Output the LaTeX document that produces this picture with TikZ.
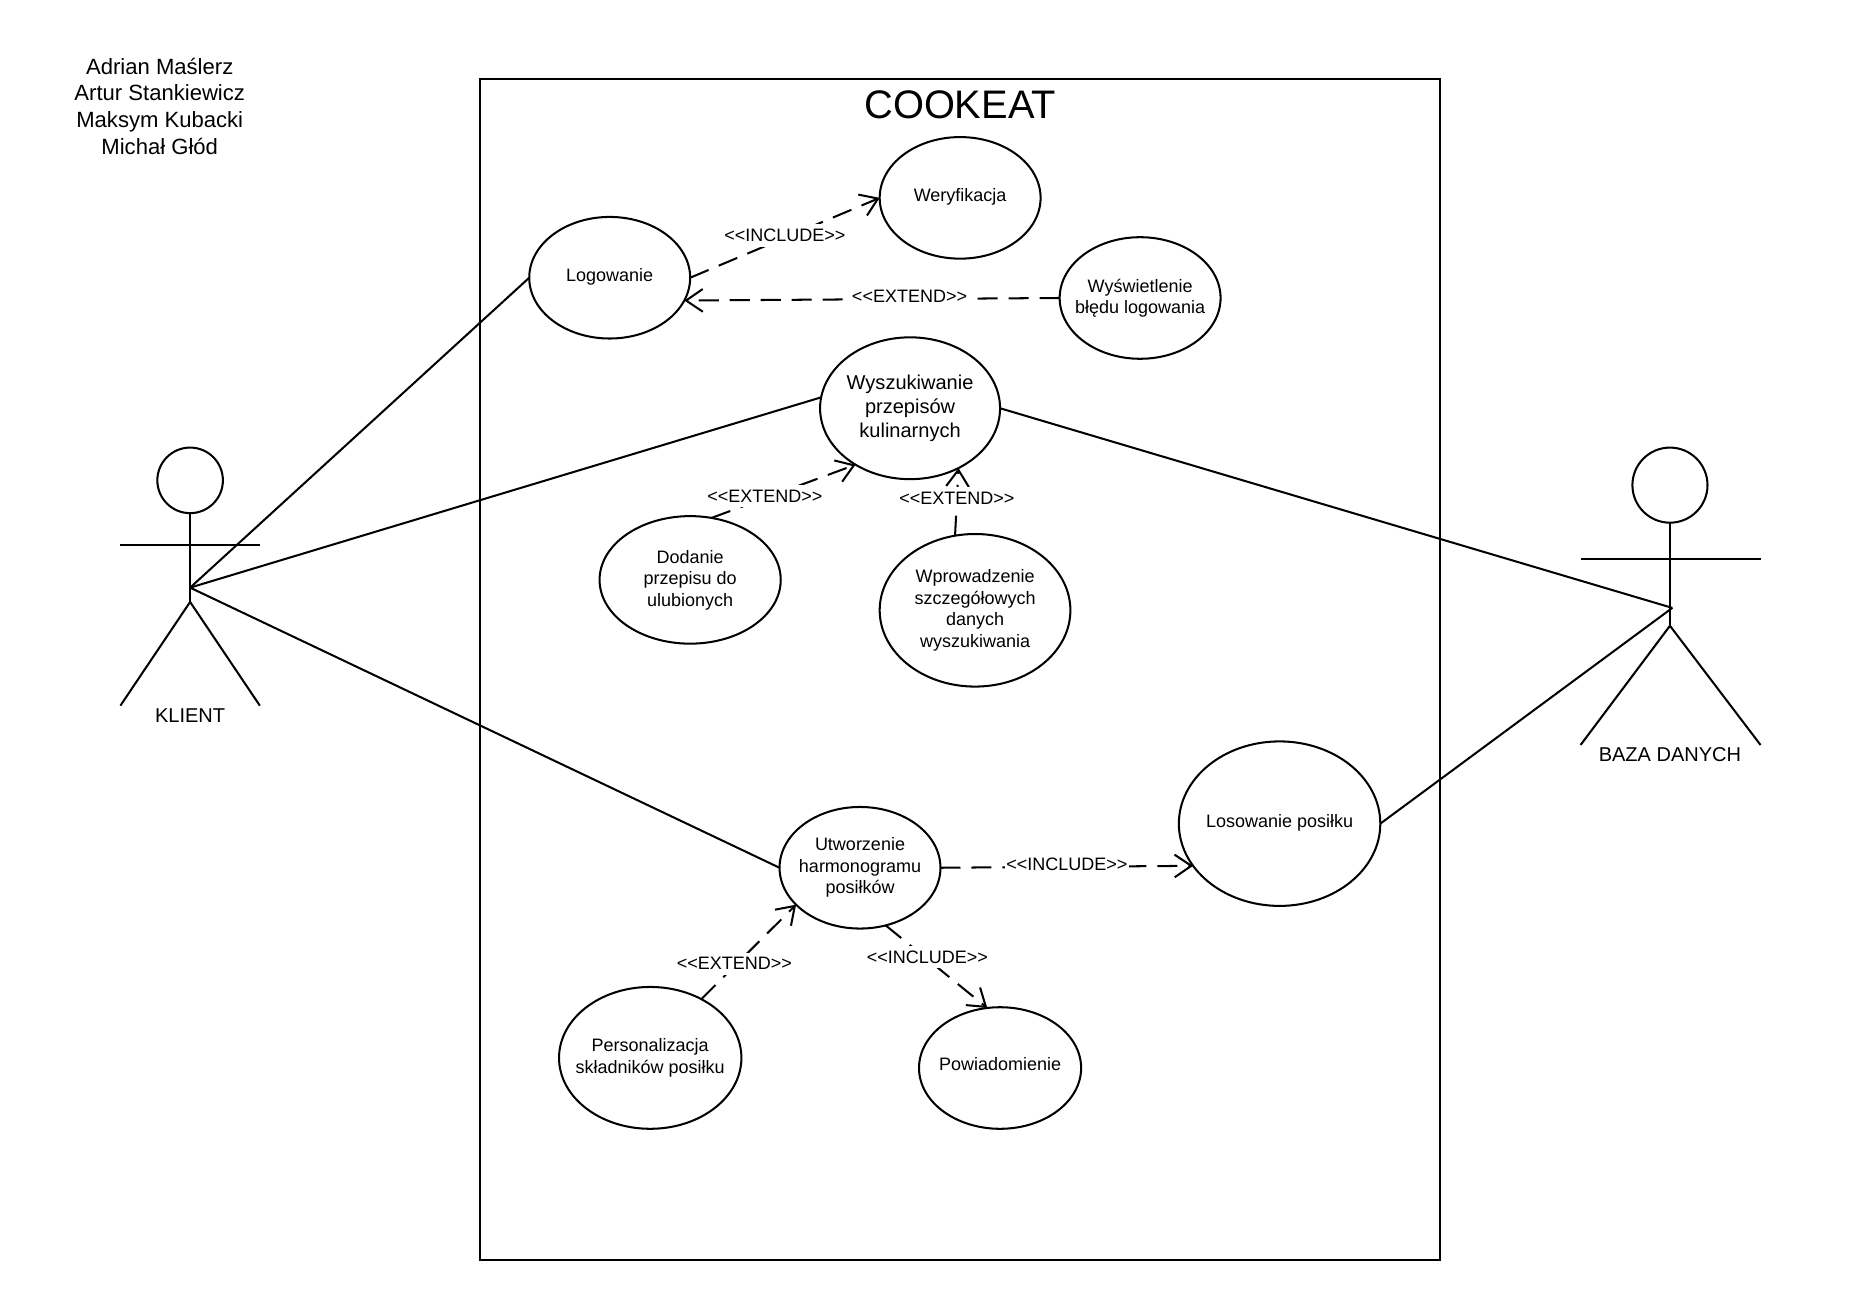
\documentclass[tikz,border=0pt]{standalone}
\usepackage{fontspec}
\setmainfont{Liberation Sans}
\usepackage{tikz}
\usetikzlibrary{positioning, arrows.meta, shapes}
\tikzset{%
  % Specifications for style of nodes:
            base/.style = {ellipse, draw=black, line width=0.85pt, inner sep=-12pt, outer sep=0pt,
                           minimum width=67.5pt, minimum height=51pt, align=center,
                           font=\fontsize{7.55}{9}\selectfont},
            oneLine/.style = {base, text depth=2.6pt},
            bigCase/.style = {base, font=\fontsize{8.4}{10}\selectfont},
            stereotype/.style = {fill=white, inner xsep=0.5pt, inner ysep=2pt, yshift=1pt, font=\fontsize{7.55}{9}\selectfont},
            actorName/.style = {font=\fontsize{8.4}{10}\selectfont},
            actorHead/.style = {circle, draw=black, line width=0.85pt, inner sep=0pt, outer sep=0pt},
            assoc/.style = {line width=0.85pt},
            depend/.style = {line width=0.85pt, dash pattern=on 8.4pt off 4.6pt,
                             -{Straight Barb[length=7pt,width=9.5pt]}},
 }

\begin{document}
\begin{tikzpicture}[x=0.5pt, y=-0.5pt, node distance=50pt]
  \useasboundingbox (0,0) rectangle (1568,1091.4);
  % Specification of nodes (position, etc.)
     \node (system) [rectangle, draw=black, line width=0.85pt, minimum width=402.5pt, minimum height=495.5pt] at (805.5,561.5) {};
     \node (title) [font=\fontsize{16.7}{20}\selectfont] at (805.5,88) {COOKEAT};
     \node (authors) [align=center, font=\fontsize{9.26}{11.2}\selectfont] at (134,89) {Adrian Maślerz\\Artur Stankiewicz\\Maksym Kubacki\\Michał Głód};

     \node (logowanie) [oneLine] at (511.5,233) {Logowanie};
     \node (weryfikacja) [oneLine, right of=logowanie, xshift=97pt, yshift=33.5pt] {Weryfikacja};
     \node (bladLogowania) [base, right of=weryfikacja, xshift=25.5pt, yshift=-42pt] {Wyświetlenie\\błędu logowania};

     \node (wyszukiwanie) [bigCase, below of=logowanie, xshift=126pt, yshift=-4.75pt, minimum width=75.5pt, minimum height=59.5pt] {Wyszukiwanie\\przepisów\\kulinarnych};
     \node (ulubione) [base, below of=wyszukiwanie, xshift=-92.25pt, yshift=-22pt, minimum width=76pt, minimum height=53.5pt] {Dodanie\\przepisu do\\ulubionych};
     \node (szczegoly) [base, below of=wyszukiwanie, xshift=27.25pt, yshift=-34.75pt, minimum width=80pt, minimum height=64pt] {Wprowadzenie\\szczegółowych\\danych\\wyszukiwania};

     \node (harmonogram) [base, below of=ulubione, xshift=71.25pt, yshift=-70.75pt] {Utworzenie\\harmonogramu\\posiłków};
     \node (losowanie) [oneLine, right of=harmonogram, xshift=126pt, yshift=18.5pt, minimum width=84.5pt, minimum height=69pt] {Losowanie posiłku};
     \node (personalizacja) [base, below of=harmonogram, xshift=-88pt, yshift=-29.75pt, minimum width=76.5pt, minimum height=59.5pt] {Personalizacja\\składników posiłku};
     \node (powiadomienie) [base, below of=harmonogram, xshift=58.75pt, yshift=-34pt, minimum width=68pt, text depth=3pt] {Powiadomienie};

  % Actors
     \node (klientHead) [actorHead, minimum size=27.5pt] at (159.5,403) {};
     \coordinate (klientHand) at (159.5,493);
     \coordinate (klientHip) at (159.5,505);
     \coordinate (klientArmL) at (101,457);
     \coordinate (klientArmR) at (218,457);
     \coordinate (klientLegL) at (101,592);
     \coordinate (klientLegR) at (218,592);
     \node (klient) [actorName] at (159.5,600) {KLIENT};

     \node (bazaHead) [actorHead, minimum size=31.5pt] at (1401,407) {};
     \coordinate (bazaHand) at (1403,510);
     \coordinate (bazaHip) at (1401,525);
     \coordinate (bazaArmL) at (1326,469);
     \coordinate (bazaArmR) at (1477,469);
     \coordinate (bazaLegL) at (1326,625);
     \coordinate (bazaLegR) at (1477,625);
     \node (baza) [actorName] at (1401,633) {BAZA DANYCH};

     \draw[assoc] (klientHead.south) -- (klientHip);
     \draw[assoc] (klientArmL) -- (klientArmR);
     \draw[assoc] (klientLegL) -- (klientHip) -- (klientLegR);
     \draw[assoc] (bazaHead.south) -- (bazaHip);
     \draw[assoc] (bazaArmL) -- (bazaArmR);
     \draw[assoc] (bazaLegL) -- (bazaHip) -- (bazaLegR);

     \draw[assoc] (klientHand) -- (logowanie.west);
     \draw[assoc] (klientHand) -- (wyszukiwanie.173);
     \draw[assoc] (klientHand) -- (harmonogram.west);
     \draw[assoc] (wyszukiwanie.east) -- (bazaHand);
     \draw[assoc] (losowanie.east) -- (bazaHand);

     \draw[depend] (logowanie.east) -- node[stereotype] (incWeryfikacja) {<{}<INCLUDE>{}>} (weryfikacja.west);
     \draw[depend] (bladLogowania.west) -- node[stereotype, pos=.4] (extBlad) {<{}<EXTEND>{}>} (logowanie.-17);
     \draw[depend] (ulubione.71) -- node[stereotype, pos=.37] (extUlubione) {<{}<EXTEND>{}>} (wyszukiwanie.226);
     \draw[depend] (szczegoly.105) -- node[stereotype, pos=.52] (extSzczegoly) {<{}<EXTEND>{}>} (wyszukiwanie.-51);
     \draw[depend] (harmonogram.east) -- node[stereotype] (incLosowanie) {<{}<INCLUDE>{}>} (losowanie.206);
     \draw[depend] (personalizacja.49) -- node[stereotype, pos=.35] (extPersonalizacja) {<{}<EXTEND>{}>} (harmonogram.210);
     \draw[depend] (harmonogram.-66) -- node[stereotype, pos=.41] (incPowiadomienie) {<{}<INCLUDE>{}>} (powiadomienie.102);

   \end{tikzpicture}
\end{document}
